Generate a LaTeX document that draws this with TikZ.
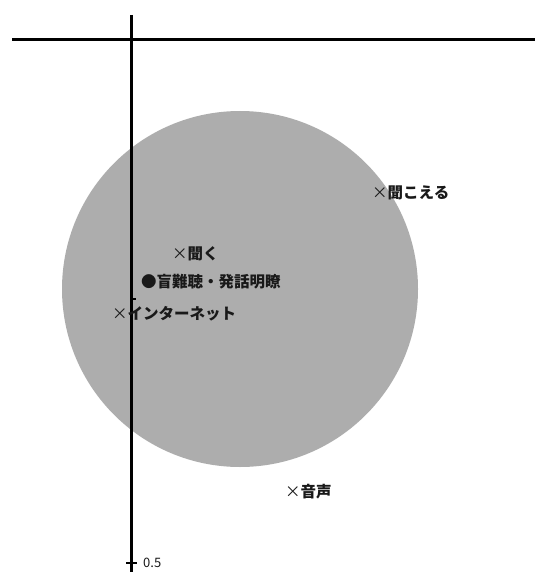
\documentclass[tikz,border=0pt]{standalone}
\usepackage{fontspec}
\newfontfamily\jpfont{Noto Sans CJK JP}
\tikzset{
  lbl/.style={anchor=west,inner sep=0pt,text=black!90},
  axis/.style={line width=3pt},
}
\begin{document}
\begin{tikzpicture}[x=1pt,y=-1pt,font=\jpfont\fontsize{15.5}{15.5}\selectfont]
      \useasboundingbox (0,0) rectangle (535,572);
      \fill[black!32] (240,289) circle (178);
      \draw
        (12,40) coordinate (xl)
        (535,40) coordinate (xr)
        (131,15) coordinate (yt)
        (131,572) coordinate (yb)
        (126,563) coordinate (t0)
        (137,563) coordinate (t1)
        (131,299) coordinate (m0)
        (136,299) coordinate (m1);
      \begin{scope}[axis]
        \draw (xl) to (xr);
        \draw (yt) to (yb);
      \end{scope}
      \begin{scope}[line width=1.6pt]
        \draw (t0) to (t1);
        \draw (m0) to (m1);
      \end{scope}
      \draw
        (172,254) node[lbl] (kiku){×\textbf{聞く}}
        (141,282) node[lbl] (mounan){●\textbf{盲難聴・発話明瞭}}
        (112,314) node[lbl] (net){×\textbf{インターネット}}
        (372,193) node[lbl] (kikoeru){×\textbf{聞こえる}}
        (285,492) node[lbl] (onsei){×\textbf{音声}}
        (143,563) node[lbl,font=\jpfont\fontsize{13}{13}\selectfont] (half){0.5};
    \end{tikzpicture}
\end{document}
